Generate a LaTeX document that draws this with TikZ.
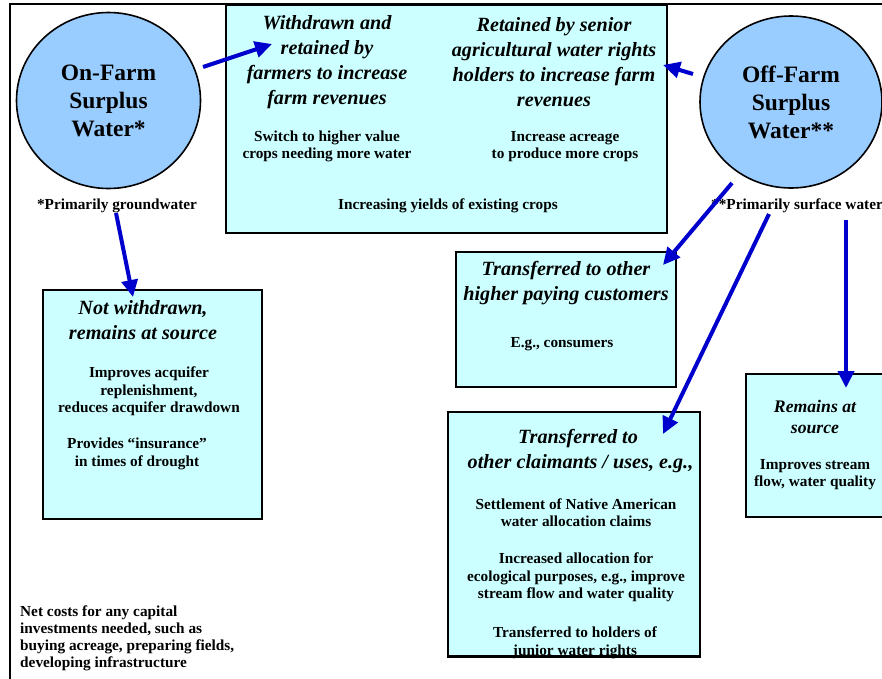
\documentclass[tikz,border=0pt]{standalone}
\usepackage{fontspec}
\setmainfont{Liberation Serif}
\usetikzlibrary{arrows.meta,shapes.geometric}
\definecolor{boxfill}{HTML}{CCFFFF}
\definecolor{circfill}{HTML}{99CCFF}
\definecolor{arrblue}{HTML}{0000CC}
\begin{document}
\begin{tikzpicture}[x=1pt,y=-1pt,
  box/.style={draw, line width=1.6pt, fill=boxfill, inner sep=0pt},
  ttl/.style={font=\fontsize{20.2}{25}\selectfont\bfseries\itshape, align=center, inner sep=0pt},
  sttl/.style={font=\fontsize{17.7}{21}\selectfont\bfseries\itshape, align=center, inner sep=0pt},
  body/.style={font=\fontsize{15.3}{17.5}\selectfont\bfseries, align=center, inner sep=0pt},
  circ/.style={ellipse, draw, line width=1.6pt, fill=circfill, inner sep=0pt,
    font=\fontsize{23.5}{28}\selectfont\bfseries, align=center},
  arr/.style={draw=arrblue, line width=4pt, -{Triangle[length=17pt,width=16pt]}}]
\useasboundingbox (0,0) rectangle (882,678);
% outer frame
\coordinate (fbl) at (10,690);
\coordinate (ftl) at (10,4);
\coordinate (ftr) at (900,4);
\draw[line width=2.5pt] (fbl) -- (ftl) -- (ftr);
% boxes
\node[box, minimum width=441pt, minimum height=228pt] (top) at (446.5,119) {};
\node[box, minimum width=219pt, minimum height=229pt] (notw) at (152.5,404.5) {};
\node[box, minimum width=220pt, minimum height=135pt] (hpay) at (566,319.5) {};
\node[box, minimum width=252pt, minimum height=244pt] (claim) at (574,534) {};
\node[box, minimum width=160pt, minimum height=143pt] (rem) at (826,445.5) {};
% circles
\node[circ, minimum width=184pt, minimum height=176pt] (onfarm) at (108.5,100.5) {On-Farm\\Surplus\\Water*};
\node[circ, minimum width=182pt, minimum height=172pt] (offfarm) at (791,102) {Off-Farm\\Surplus\\Water**};
\node[body] (gw) at (117,206) {*Primarily groundwater};
\node[body] (sw) at (797,206) {**Primarily surface water};
% top box texts
\node[ttl] (t1) at (327,62) {Withdrawn and\\retained by\\farmers to increase\\farm revenues};
\node[ttl] (t2) at (554,62) {Retained by senior\\agricultural water rights\\holders to increase farm\\revenues};
\node[body] (b1) at (327,146.5) {Switch to higher value\\crops needing more water};
\node[body] (b2) at (565,146.5) {Increase acreage\\to produce more crops};
\node[body] (b3) at (448,206) {Increasing yields of existing crops};
% not withdrawn
\node[ttl] (t3) at (143,320) {Not withdrawn,\\remains at source};
\node[body] (b4) at (149,391.5) {Improves acquifer\\replenishment,\\reduces acquifer drawdown};
\node[body] (b5) at (137,454) {Provides ``insurance''\\in times of drought};
% higher paying
\node[ttl] (t4) at (566,283.5) {Transferred to other\\higher paying customers};
\node[body] (b6) at (562,344) {E.g., consumers};
% claimants
\node[ttl] (t5) at (578,451.5) {Transferred to\\\ other claimants / uses, e.g.,};
\node[body] (b7) at (576,512.5) {Settlement of Native American\\water allocation claims};
\node[body] (b8) at (576,577.5) {Increased allocation for\\ecological purposes, e.g., improve\\stream flow and water quality};
\node[body] (b9) at (575,643) {Transferred to holders of\\junior water rights};
\draw[line width=1.6pt] (claim.south west) -- (claim.south east);
% remains at source
\node[sttl] (t6) at (815,416.5) {Remains at\\source};
\node[body] (b10) at (815,474.5) {Improves stream\\flow, water quality};
% net costs
\node[body, align=left, anchor=north west, font=\fontsize{15.3}{17}\selectfont\bfseries] (net) at (20,606) {Net costs for any capital\\investments needed, such as\\buying acreage, preparing fields,\\developing infrastructure};
% arrows
\coordinate (a1s) at (203,67);   \coordinate (a1e) at (272,44);
\coordinate (a2s) at (693,74);   \coordinate (a2e) at (663,65);
\coordinate (a3s) at (116,213);  \coordinate (a3e) at (133,297);
\coordinate (a4s) at (732,183);  \coordinate (a4e) at (663,265);
\coordinate (a5s) at (769,214);  \coordinate (a5e) at (663,434);
\coordinate (a6s) at (846,220);  \coordinate (a6e) at (846,388);
\draw[arr] (a1s) -- (a1e);
\draw[arr] (a2s) -- (a2e);
\draw[arr] (a3s) -- (a3e);
\draw[arr] (a4s) -- (a4e);
\draw[arr] (a5s) -- (a5e);
\draw[arr] (a6s) -- (a6e);
\end{tikzpicture}
\end{document}
